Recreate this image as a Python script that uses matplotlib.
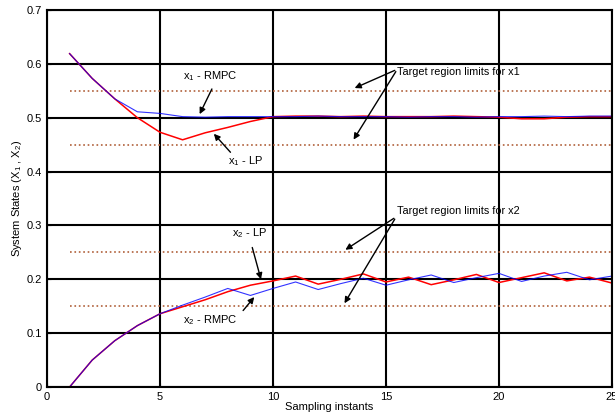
import numpy as np
import matplotlib
matplotlib.use("Agg")
import matplotlib.pyplot as plt

plt.rcParams['font.family'] = ['Liberation Sans', 'DejaVu Sans']
plt.rcParams['mathtext.fontset'] = 'custom'
plt.rcParams['mathtext.rm'] = 'Liberation Sans'
plt.rcParams['mathtext.it'] = 'Liberation Sans'

k = list(range(1, 26))
x1_rmpc = [0.619, 0.573, 0.535, 0.511, 0.508, 0.502, 0.501, 0.502, 0.502, 0.502,
           0.502, 0.503, 0.502, 0.502, 0.502, 0.501, 0.502, 0.502, 0.501, 0.502,
           0.502, 0.503, 0.502, 0.503, 0.503]
x1_lp = [0.619, 0.573, 0.535, 0.500, 0.473, 0.459, 0.472, 0.482, 0.493, 0.502,
         0.503, 0.503, 0.502, 0.503, 0.502, 0.502, 0.502, 0.503, 0.502, 0.501,
         0.498, 0.498, 0.501, 0.502, 0.502]
x2_rmpc = [0.0, 0.05, 0.086, 0.114, 0.136, 0.152, 0.167, 0.183, 0.170, 0.183,
           0.195, 0.181, 0.192, 0.202, 0.189, 0.199, 0.208, 0.194, 0.203, 0.211,
           0.196, 0.206, 0.213, 0.199, 0.206]
x2_lp = [0.0, 0.05, 0.086, 0.114, 0.136, 0.149, 0.162, 0.177, 0.189, 0.197,
         0.206, 0.191, 0.200, 0.210, 0.195, 0.204, 0.190, 0.199, 0.209, 0.194,
         0.203, 0.212, 0.197, 0.204, 0.193]
limits = [0.55, 0.45, 0.25, 0.15]

fig = plt.figure(figsize=(6.15, 4.15), dpi=100)
ax = fig.add_axes([47 / 615, 28 / 415, 565 / 615, 377 / 415])

for lim in limits:
    ax.plot([1, 25], [lim, lim], linestyle=':', color='#b0603a', linewidth=1.2)

ax.plot(k, x1_lp, color='red', linewidth=1.1)
ax.plot(k, x2_lp, color='red', linewidth=1.1)
ax.plot(k, x1_rmpc, color='blue', linewidth=0.8, alpha=0.8)
ax.plot(k, x2_rmpc, color='blue', linewidth=0.8, alpha=0.8)

ax.set_xlim(0, 25)
ax.set_ylim(0, 0.7)
ax.set_xticks([0, 5, 10, 15, 20, 25])
ax.set_yticks([0, 0.1, 0.2, 0.3, 0.4, 0.5, 0.6, 0.7])
ax.set_yticklabels(['0', '0.1', '0.2', '0.3', '0.4', '0.5', '0.6', '0.7'])
ax.grid(True, color='black', linewidth=1.5)
ax.tick_params(direction='in', length=3, labelsize=8, color='black')
for s in ax.spines.values():
    s.set_linewidth(1.5)

ax.set_xlabel('Sampling instants', fontsize=8, labelpad=0)
ax.set_ylabel('System States (X$_1$ , X$_2$)', fontsize=8, labelpad=2)

arr = dict(arrowstyle='-|>', color='black', linewidth=1, mutation_scale=9)
ax.text(6.0, 0.578, 'x$_1$ - RMPC', fontsize=8, va='center')
ax.annotate('', xy=(6.7, 0.502), xytext=(7.35, 0.558), arrowprops=arr)
ax.text(8.0, 0.42, 'x$_1$ - LP', fontsize=8, va='center')
ax.annotate('', xy=(7.3, 0.474), xytext=(8.2, 0.432), arrowprops=arr)

ax.text(15.5, 0.584, 'Target region limits for x1', fontsize=7.8, va='center')
ax.annotate('', xy=(13.5, 0.553), xytext=(15.5, 0.59), arrowprops=arr)
ax.annotate('', xy=(13.5, 0.455), xytext=(15.5, 0.59), arrowprops=arr)

ax.text(15.5, 0.327, 'Target region limits for x2', fontsize=7.8, va='center')
ax.annotate('', xy=(13.1, 0.252), xytext=(15.45, 0.316), arrowprops=arr)
ax.annotate('', xy=(13.1, 0.151), xytext=(15.45, 0.316), arrowprops=arr)

ax.text(8.2, 0.286, 'x$_2$ - LP', fontsize=8, va='center')
ax.annotate('', xy=(9.5, 0.195), xytext=(9.05, 0.264), arrowprops=arr)
ax.text(6.0, 0.125, 'x$_2$ - RMPC', fontsize=8, va='center')
ax.annotate('', xy=(9.25, 0.171), xytext=(8.6, 0.138), arrowprops=arr)

fig.savefig('out.png', dpi=100)
